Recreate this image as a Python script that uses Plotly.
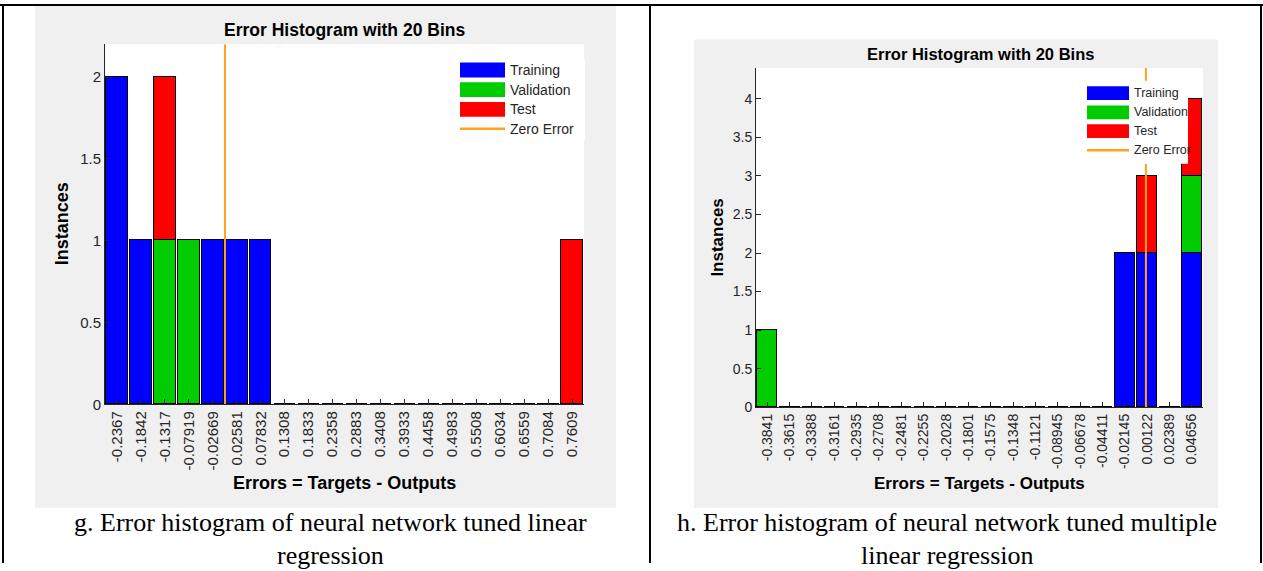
import plotly.graph_objects as go

W, H = 1263, 571

# ---------------- data ----------------
series_names = ["Training", "Validation", "Test"]
series_colors = ["#0000FF", "#00CC00", "#FF0000"]
zero_name = "Zero Error"
zero_color = "#FFA31A"

g_labels = ["-0.2367", "-0.1842", "-0.1317", "-0.07919", "-0.02669", "0.02581", "0.07832",
            "0.1308", "0.1833", "0.2358", "0.2883", "0.3408", "0.3933", "0.4458", "0.4983",
            "0.5508", "0.6034", "0.6559", "0.7084", "0.7609"]
g_training = [2, 1, 0, 0, 1, 1, 1, 0, 0, 0, 0, 0, 0, 0, 0, 0, 0, 0, 0, 0]
g_validation = [0, 0, 1, 1, 0, 0, 0, 0, 0, 0, 0, 0, 0, 0, 0, 0, 0, 0, 0, 0]
g_test = [0, 0, 1, 0, 0, 0, 0, 0, 0, 0, 0, 0, 0, 0, 0, 0, 0, 0, 0, 1]

h_labels = ["-0.3841", "-0.3615", "-0.3388", "-0.3161", "-0.2935", "-0.2708", "-0.2481",
            "-0.2255", "-0.2028", "-0.1801", "-0.1575", "-0.1348", "-0.1121", "-0.08945",
            "-0.06678", "-0.04411", "-0.02145", "0.00122", "0.02389", "0.04656"]
h_training = [0, 0, 0, 0, 0, 0, 0, 0, 0, 0, 0, 0, 0, 0, 0, 0, 2, 2, 0, 2]
h_validation = [1, 0, 0, 0, 0, 0, 0, 0, 0, 0, 0, 0, 0, 0, 0, 0, 0, 0, 0, 1]
h_test = [0, 0, 0, 0, 0, 0, 0, 0, 0, 0, 0, 0, 0, 0, 0, 0, 0, 1, 0, 1]

title_text = "Error Histogram with 20 Bins"
xlabel_text = "Errors = Targets - Outputs"
ylabel_text = "Instances"
caption_g = ["g. Error histogram of neural network tuned linear", "regression"]
caption_h = ["h. Error histogram of neural network tuned multiple", "linear regression"]

# ---------------- helpers ----------------
def px(x):
    return x / W

def py(y):
    return 1 - y / H

SANS = "Liberation Sans, Arial, sans-serif"
SERIF = "Liberation Serif, Times New Roman, serif"
AX = "#262626"


def zero_index(labels):
    c = [float(s) for s in labels]
    for i in range(len(c) - 1):
        if c[i] <= 0 <= c[i + 1]:
            return i + (0 - c[i]) / (c[i + 1] - c[i])
    return 0


fig = go.Figure()
shapes = []
annotations = []

panels = [
    dict(labels=g_labels, vals=[g_training, g_validation, g_test], xa="x", ya="y",
         dom_x=(105, 584), dom_y=(410, 45), panel=(35, 6, 616, 515),
         title_xy=(344, 30), xlabel_y=490, ylabel_x=62, tfs=17.5, lfs=18, tick=15,
         leg=dict(x0=455, y0=60, x1=585, y1=142, sw0=460, sw1=505, tx=508,
                  rows=[71, 91, 111, 130.5], sh=15, fs=14)),
    dict(labels=h_labels, vals=[h_training, h_validation, h_test], xa="x2", ya="y2",
         dom_x=(756, 1203), dom_y=(413, 69), panel=(694, 40, 1218, 515),
         title_xy=(980, 55), xlabel_y=490, ylabel_x=718, tfs=16.5, lfs=17, tick=14,
         leg=dict(x0=1083, y0=82, x1=1188, y1=166, sw0=1087, sw1=1129, tx=1132,
                  rows=[94.5, 114, 133, 152.5], sh=14, fs=12.5)),
]

for k, p in enumerate(panels):
    n = len(p["labels"])
    idx = list(range(n))
    totals = [sum(v) for v in zip(*p["vals"])]
    ymax = 1.1 * max(totals)
    for name, col, vals in zip(series_names, series_colors, p["vals"]):
        fig.add_trace(go.Bar(x=idx, y=vals, name=name, width=0.9,
                             marker=dict(color=col, line=dict(color="#000000", width=1)),
                             xaxis=p["xa"], yaxis=p["ya"], showlegend=False))
    z = zero_index(p["labels"])
    fig.add_trace(go.Scatter(x=[z, z], y=[0, ymax], mode="lines", name=zero_name,
                             line=dict(color=zero_color, width=2),
                             xaxis=p["xa"], yaxis=p["ya"], showlegend=False))

    axsuf = "" if k == 0 else "2"
    common = dict(showline=True, linecolor=AX, linewidth=1, ticks="inside", ticklen=5,
                  tickcolor=AX, tickwidth=1, showgrid=False, zeroline=False,
                  tickfont=dict(family=SANS, size=p["tick"], color=AX))
    fig.update_layout(**{
        "xaxis" + axsuf: dict(domain=[px(p["dom_x"][0]), px(p["dom_x"][1])],
                              range=[-0.5, n - 0.5], tickvals=idx, ticktext=p["labels"],
                              tickangle=-90, anchor="y" + axsuf, **common),
        "yaxis" + axsuf: dict(domain=[py(p["dom_y"][0]), py(p["dom_y"][1])],
                              range=[0, ymax], dtick=0.5, anchor="x" + axsuf, **common),
    })

    # gray figure panel + white plot area
    x0, y0, x1, y1 = p["panel"]
    shapes.append(dict(type="rect", xref="paper", yref="paper", x0=px(x0), x1=px(x1),
                       y0=py(y1), y1=py(y0), fillcolor="#F0F0F0", line=dict(width=0),
                       layer="below"))
    shapes.append(dict(type="rect", xref="paper", yref="paper",
                       x0=px(p["dom_x"][0]), x1=px(p["dom_x"][1]),
                       y0=py(p["dom_y"][0]), y1=py(p["dom_y"][1]),
                       fillcolor="#FFFFFF", line=dict(width=0), layer="below"))

    # titles
    annotations.append(dict(text=title_text, x=px(p["title_xy"][0]), y=py(p["title_xy"][1]),
                            xref="paper", yref="paper", showarrow=False, xanchor="center",
                            yanchor="middle",
                            font=dict(family=SANS, size=p["tfs"], color="#000000", weight="bold")))
    cx = (p["dom_x"][0] + p["dom_x"][1]) / 2
    cy = (p["dom_y"][0] + p["dom_y"][1]) / 2
    annotations.append(dict(text=xlabel_text, x=px(cx), y=py(p["xlabel_y"]),
                            xref="paper", yref="paper", showarrow=False, xanchor="center",
                            yanchor="middle",
                            font=dict(family=SANS, size=p["lfs"], color="#000000", weight="bold")))
    annotations.append(dict(text=ylabel_text, x=px(p["ylabel_x"]), y=py(cy), textangle=-90,
                            xref="paper", yref="paper", showarrow=False, xanchor="center",
                            yanchor="middle",
                            font=dict(family=SANS, size=p["lfs"], color="#000000", weight="bold")))

    # legend box (drawn over the data like MATLAB's legend)
    L = p["leg"]
    shapes.append(dict(type="rect", xref="paper", yref="paper", x0=px(L["x0"]), x1=px(L["x1"]),
                       y0=py(L["y1"]), y1=py(L["y0"]), fillcolor="#FFFFFF",
                       line=dict(width=0), layer="above"))
    names = series_names + [zero_name]
    for i, nm in enumerate(names):
        ry = L["rows"][i]
        if i < len(series_names):
            shapes.append(dict(type="rect", xref="paper", yref="paper",
                               x0=px(L["sw0"]), x1=px(L["sw1"]),
                               y0=py(ry + L["sh"] / 2), y1=py(ry - L["sh"] / 2),
                               fillcolor=series_colors[i], line=dict(width=0), layer="above"))
        else:
            shapes.append(dict(type="line", xref="paper", yref="paper",
                               x0=px(L["sw0"]), x1=px(L["sw1"]), y0=py(ry), y1=py(ry),
                               line=dict(color=zero_color, width=2.5), layer="above"))
        annotations.append(dict(text=nm, x=px(L["tx"]), y=py(ry), xref="paper", yref="paper",
                                showarrow=False, xanchor="left", yanchor="middle",
                                font=dict(family=SANS, size=L["fs"], color=AX)))

# captions
for cap, cxp in [(caption_g, 330), (caption_h, 947)]:
    for j, line in enumerate(cap):
        annotations.append(dict(text=line, x=px(cxp), y=py(530 + 33 * j), xref="paper",
                                yref="paper", showarrow=False, xanchor="center",
                                yanchor="middle",
                                font=dict(family=SERIF, size=26, color="#000000")))

# table borders
for (xa, ya, xb, yb) in [(0, 5, W, 5), (3, 5, 3, H), (650, 5, 650, H), (1261, 5, 1261, H)]:
    shapes.append(dict(type="line", xref="paper", yref="paper", x0=px(xa), x1=px(xb),
                       y0=py(ya), y1=py(yb), line=dict(color="#000000", width=2),
                       layer="above"))

fig.update_layout(width=W, height=H, margin=dict(l=0, r=0, t=0, b=0),
                  paper_bgcolor="#FFFFFF", plot_bgcolor="rgba(0,0,0,0)",
                  barmode="stack", bargap=0, showlegend=False,
                  shapes=shapes, annotations=annotations)

fig.write_html("out.html")
